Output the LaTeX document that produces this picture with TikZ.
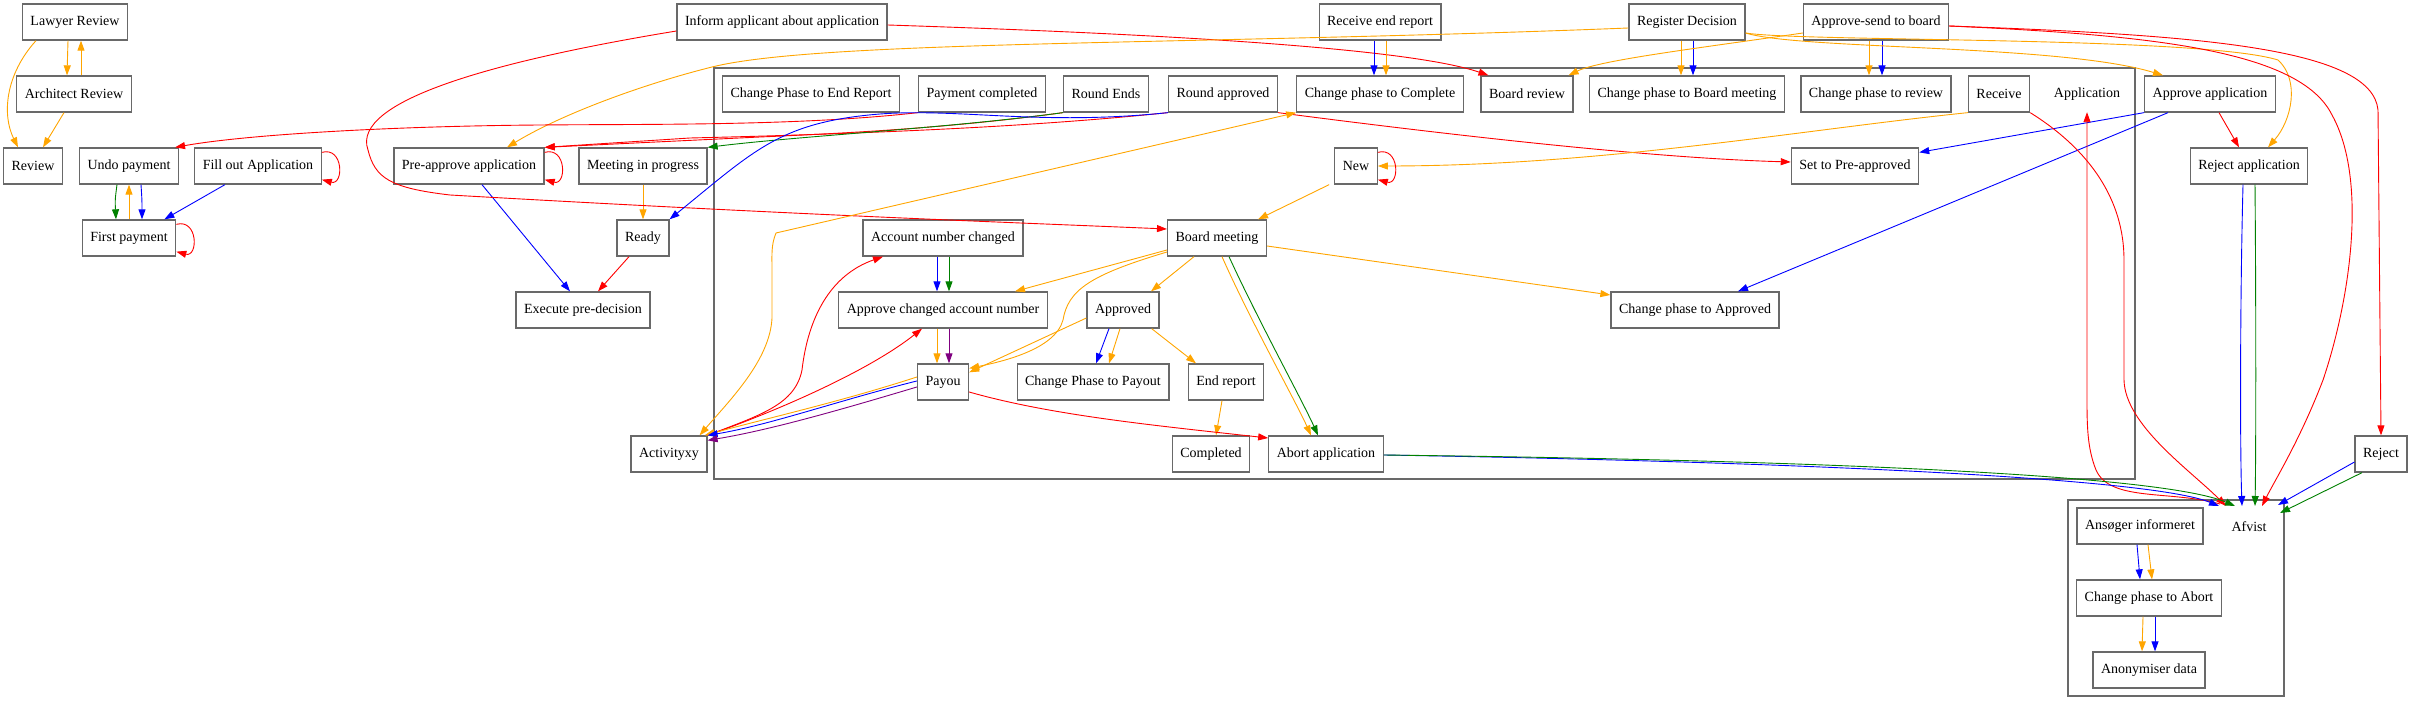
\documentclass[tikz,border=0pt]{standalone}
\usepackage{fontspec}
\setmainfont{Liberation Serif}
\usetikzlibrary{arrows.meta}
\definecolor{boxgray}{RGB}{105,105,105}
\definecolor{gvorange}{RGB}{255,165,0}
\definecolor{gvgreen}{RGB}{0,128,0}
\definecolor{gvpurple}{RGB}{128,0,128}

\begin{document}
\begin{tikzpicture}[x=1pt, y=-1pt]
\tikzset{vertex/.style = {shape=rectangle, draw=boxgray, line width=1.3pt, minimum height=36pt, inner xsep=8pt, font=\fontsize{14}{16}\selectfont}}
\tikzset{clabel/.style = {shape=rectangle, minimum height=36pt, inner xsep=8pt, font=\fontsize{14}{16}\selectfont}}
\tikzset{cluster/.style = {draw=boxgray, line width=1.3pt}}
\tikzset{edge/.style = {line width=0.9pt, -{Triangle[length=10pt,width=7pt]}}}
\tikzset{twoway/.style = {{Triangle[length=10pt,width=7pt]}-{Triangle[length=10pt,width=7pt]}}}
\useasboundingbox (0,0) rectangle (2412,708);

% clusters
\draw[cluster] (714,68) rectangle (2135,479);
\draw[cluster] (2068,500) rectangle (2284,696);
\coordinate (afvtop) at (2176,506);

% nodes outside the clusters
\node[vertex] (LR) at (75,22) {Lawyer Review};
\node[vertex] (AR) at (74,94) {Architect Review};
\node[vertex] (Rv) at (33,166) {Review};
\node[vertex] (UP) at (129,166) {Undo payment};
\node[vertex] (FA) at (258,166) {Fill out Application};
\node[vertex] (FP) at (129,238) {First payment};
\node[vertex] (PA) at (469,166) {Pre-approve application};
\node[vertex] (MP) at (643,166) {Meeting in progress};
\node[vertex] (Rd) at (643,238) {Ready};
\node[vertex] (EP) at (583,310) {Execute pre-decision};
\node[vertex] (IA) at (782,22) {Inform applicant about application};
\node[vertex] (RE) at (1380,22) {Receive end report};
\node[vertex] (RD) at (1687,22) {Register Decision};
\node[vertex] (AS) at (1876,22) {Approve-send to board};
\node[vertex] (AA) at (2210,94) {Approve application};
\node[vertex] (RA) at (2249,166) {Reject application};
\node[vertex] (Rj) at (2381,454) {Reject};
\node[vertex] (Ax) at (669,454) {Activityxy};

% Application cluster
\node[vertex] (CE) at (811,94) {Change Phase to End Report};
\node[vertex] (PC) at (982,94) {Payment completed};
\node[vertex] (RnE) at (1106,94) {Round Ends};
\node[vertex] (RnA) at (1223,94) {Round approved};
\node[vertex] (CC) at (1380,94) {Change phase to Complete};
\node[vertex] (BR) at (1527,94) {Board review};
\node[vertex] (CB) at (1687,94) {Change phase to Board meeting};
\node[vertex] (CR) at (1876,94) {Change phase to review};
\node[vertex] (Rc) at (1999,94) {Receive};
\node[clabel] (App) at (2087,94) {Application};
\node[vertex] (Nw) at (1356,166) {New};
\node[vertex] (SP) at (1855,166) {Set to Pre-approved};
\node[vertex] (AC) at (943,238) {Account number changed};
\node[vertex] (BM) at (1217,238) {Board meeting};
\node[vertex] (AN) at (943,310) {Approve changed account number};
\node[vertex] (Ad) at (1123,310) {Approved};
\node[vertex] (CA) at (1695,310) {Change phase to Approved};
\node[vertex] (Py) at (943,382) {Payou};
\node[vertex] (CP) at (1093,382) {Change Phase to Payout};
\node[vertex] (ER) at (1226,382) {End report};
\node[vertex] (Cm) at (1211,454) {Completed};
\node[vertex] (AB) at (1326,454) {Abort application};

% Afvist cluster
\node[clabel] (Afv) at (2249,527) {Afvist};
\node[vertex] (AI) at (2140,526) {Ansøger informeret};
\node[vertex] (CAb) at (2149,598) {Change phase to Abort};
\node[vertex] (AD) at (2149,670) {Anonymiser data};

% left part
\draw[edge, gvorange] ([xshift=-7pt]LR.south) -- ([xshift=-7pt]AR.north);
\draw[edge, gvorange] ([xshift=7pt]AR.north) -- ([xshift=6pt]LR.south);
\draw[edge, gvorange] ([xshift=-10pt]AR.south) -- ([xshift=10pt]Rv.north);
\draw[edge, gvorange] ([xshift=-39pt]LR.south) .. controls (5,75) and (2,115) .. ([xshift=-15pt]Rv.north);
\draw[edge, gvgreen] ([xshift=-12pt]UP.south) .. controls (115,200) .. ([xshift=-13pt]FP.north);
\draw[edge, gvorange] (FP.north) -- (UP.south);
\draw[edge, blue] ([xshift=12pt]UP.south) .. controls (142,200) .. ([xshift=13pt]FP.north);
\draw[edge, blue] ([xshift=-33pt]FA.south) -- ([xshift=-12pt]FP.north east);
\draw[edge, red] ([yshift=-5pt]FA.north east) .. controls +(22,-6) and +(22,6) .. ([yshift=5pt]FA.south east);
\draw[edge, red] ([yshift=-5pt]FP.north east) .. controls +(22,-6) and +(22,6) .. ([yshift=5pt]FP.south east);
\draw[edge, red] ([yshift=-5pt]PA.north east) .. controls +(22,-6) and +(22,6) .. ([yshift=5pt]PA.south east);
\draw[edge, blue] ([xshift=13pt]PA.south) -- ([xshift=-13pt]EP.north);
\draw[edge, red] ([xshift=-14pt]Rd.south) -- ([xshift=15pt]EP.north);
\draw[edge, gvorange] (MP.south) -- (Rd.north);

% top row
\draw[edge, red] ([yshift=-9pt]IA.west) .. controls (500,60) and (350,100) .. (368,150)
  .. controls (375,178) and (390,188) .. (450,195) .. controls (800,215) and (1000,222) .. ([yshift=9pt]BM.west);
\draw[edge, red] ([yshift=-3pt]IA.east) .. controls (1100,32) and (1400,45) .. ([xshift=8pt]BR.north west);
\draw[edge, gvorange] ([yshift=-6pt]RD.west) .. controls (1200,45) and (820,40) .. (712,67)
  .. controls (640,85) and (560,115) .. ([xshift=38pt]PA.north);
\draw[edge, gvorange] ([xshift=-6pt]RD.south) -- ([xshift=-6pt]CB.north);
\draw[edge, blue] ([xshift=6pt]RD.south) -- ([xshift=6pt]CB.north);
\draw[edge, blue] ([xshift=-6pt]RE.south) -- ([xshift=-6pt]CC.north);
\draw[edge, gvorange] ([xshift=6pt]RE.south) -- ([xshift=6pt]CC.north);
\draw[edge, gvorange] ([xshift=-7pt]AS.south) -- ([xshift=-7pt]CR.north);
\draw[edge, blue] ([xshift=6pt]AS.south) -- ([xshift=6pt]CR.north);
\draw[edge, gvorange] ([yshift=-11pt]AS.west) .. controls (1700,48) and (1600,60) .. ([xshift=-5pt]BR.north east);
\draw[edge, gvorange] ([yshift=-11pt]RD.east) .. controls (1800,50) and (2060,44) .. ([xshift=-47pt]AA.north);
\draw[edge, gvorange] ([yshift=-11pt]RD.east) .. controls (1800,42) and (2200,36) .. (2278,60)
  .. controls (2300,80) and (2292,120) .. ([xshift=19pt]RA.north);
\draw[edge, red] ([yshift=-4pt]AS.east) .. controls (2200,35) and (2372,48) .. (2378,110) -- (Rj.north);
\draw[edge, red] ([yshift=-4pt]AS.east) .. controls (2150,35) and (2300,50) .. (2332,115)
  .. controls (2368,180) and (2350,300) .. (2323,380) .. controls (2300,440) and (2275,480) .. ([xshift=86pt]afvtop);

% Application cluster, upper part
\draw[edge, red] (PC.south west) .. controls (800,126) and (650,124) .. (540,125)
  .. controls (400,126) and (250,134) .. ([xshift=-4pt]UP.north east);
\draw[edge, red] (RnE.south west) .. controls (950,128) and (850,133) .. (760,137) -- (PA.north east);
\draw[edge, red] (RnA.south west) .. controls (1050,125) and (900,133) .. (690,138) -- (PA.north east);
\draw[edge, gvgreen] (RnE.south west) .. controls (950,128) and (800,136) .. (MP.north east);
\draw[edge, blue] (RnA.south west) .. controls (1040,126) and (960,108) .. (880,114)
  .. controls (780,122) and (755,150) .. (Rd.north east);
\draw[edge, red] (RnA.south east) .. controls (1450,135) and (1650,158) .. ([yshift=4pt]SP.west);
\draw[edge, gvorange] (Rc.south west) .. controls (1800,130) and (1600,166) .. (Nw.east);
\draw[edge, red] ([yshift=-5pt]Nw.north east) .. controls +(22,-6) and +(22,6) .. ([yshift=5pt]Nw.south east);
\draw[edge, gvorange] ([xshift=-5pt]Nw.south west) -- ([xshift=-9pt]BM.north east);
\draw[edge, twoway, gvorange] (CC.south west) -- (776,233) .. controls (771,245) and (772,255) .. (772,270) -- (772,318)
  .. controls (770,360) and (730,400) .. ([xshift=-8pt]Ax.north east);
\draw[edge, red] (AA.south) ++(9pt,0) -- ([xshift=-10pt]RA.north);
\draw[edge, blue] (AA.south west) -- ([yshift=-5pt]SP.north east);
\draw[edge, blue] ([xshift=-42pt]AA.south) -- ([xshift=43pt]CA.north);

% Application cluster, lower part
\draw[edge, blue] ([xshift=-6pt]AC.south) -- ([xshift=-6pt]AN.north);
\draw[edge, gvgreen] ([xshift=6pt]AC.south) -- ([xshift=6pt]AN.north);
\draw[edge, gvorange] ([xshift=-6pt]AN.south) -- ([xshift=-6pt]Py.north);
\draw[edge, gvpurple] ([xshift=6pt]AN.south) -- ([xshift=6pt]Py.north);
\draw[edge, gvorange] ([yshift=-12pt]BM.west) -- ([xshift=72pt]AN.north);
\draw[edge, gvorange] ([yshift=-14pt]BM.west) .. controls (1090,275) and (1068,290) .. (1063,320)
  .. controls (1055,350) and (1000,362) .. ([yshift=-5pt]Py.north east);
\draw[edge, gvorange] ([yshift=-8pt]Ad.west) -- ([yshift=-9pt]Py.north east);
\draw[edge, gvorange] ([xshift=-23pt]BM.south) -- ([xshift=28pt]Ad.north);
\draw[edge, gvorange] ([yshift=-8pt]BM.east) -- ([yshift=15pt]CA.west);
\draw[edge, gvorange] ([xshift=5pt]BM.south) .. controls (1250,320) and (1295,400) .. ([xshift=-15pt]AB.north);
\draw[edge, gvgreen] ([xshift=12pt]BM.south) .. controls (1258,320) and (1302,400) .. ([xshift=-8pt]AB.north);
\draw[edge, blue] ([xshift=-14pt]Ad.south) -- ([xshift=3pt]CP.north);
\draw[edge, gvorange] ([xshift=-3pt]Ad.south) -- ([xshift=16pt]CP.north);
\draw[edge, gvorange] ([xshift=-8pt]Ad.south east) -- ([xshift=-30pt]ER.north);
\draw[edge, gvorange] ([xshift=-4pt]ER.south) -- ([xshift=5pt]Cm.north);
\draw[edge, red] ([yshift=-10pt]Py.east) .. controls (1050,415) and (1150,425) .. ([yshift=16pt]AB.west);
\draw[edge, red] (Ax.north east) .. controls (760,415) and (795,405) .. (802,370)
  .. controls (808,318) and (830,275) .. ([xshift=-60pt]AC.south);
\draw[edge, red] (Ax.north east) .. controls (780,410) and (870,370) .. ([xshift=-21pt]AN.south);
\draw[edge, gvorange] ([yshift=5pt]Py.west) .. controls (840,402) and (760,420) .. ([xshift=-3pt]Ax.north east);
\draw[edge, blue] ([yshift=1pt]Py.west) .. controls (840,400) and (770,425) .. (Ax.north east);
\draw[edge, gvpurple] ([yshift=-5pt]Py.west) .. controls (840,410) and (770,430) .. ([yshift=-5pt]Ax.north east);

% into and out of Afvist
\draw[edge, red] (Rc.south east) .. controls (2090,150) and (2124,200) .. (2124,260) -- (2124,380)
  .. controls (2125,425) and (2190,470) .. ([xshift=50pt]afvtop);
\draw[edge, red] ([xshift=44pt,yshift=2pt]afvtop) .. controls (2170,490) and (2110,502) .. (2096,470)
  .. controls (2086,445) and (2087,420) .. (2087,380) -- (App.south);
\draw[edge, blue] ([yshift=-1pt]AB.east) .. controls (1800,462) and (2150,478) .. ([xshift=43pt]afvtop);
\draw[edge, gvgreen] ([yshift=-1pt]AB.east) .. controls (1800,460) and (2160,474) .. ([xshift=59pt]afvtop);
\draw[edge, blue] ([xshift=-6pt]RA.south) .. controls (2240,300) and (2240,450) .. ([xshift=66pt]afvtop);
\draw[edge, gvgreen] ([xshift=6pt]RA.south) .. controls (2256,300) and (2256,450) .. ([xshift=79pt]afvtop);
\draw[edge, blue] ([yshift=-8pt]Rj.west) -- ([xshift=102pt,yshift=1pt]afvtop);
\draw[edge, gvgreen] ([xshift=-19pt]Rj.south) -- ([xshift=104pt,yshift=-7pt]afvtop);
\draw[edge, blue] ([xshift=-3pt]AI.south) -- ([xshift=-9pt]CAb.north);
\draw[edge, gvorange] ([xshift=8pt]AI.south) -- ([xshift=3pt]CAb.north);
\draw[edge, gvorange] ([xshift=-6pt]CAb.south) -- ([xshift=-7pt]AD.north);
\draw[edge, blue] ([xshift=6pt]CAb.south) -- ([xshift=6pt]AD.north);
\end{tikzpicture}
\end{document}
